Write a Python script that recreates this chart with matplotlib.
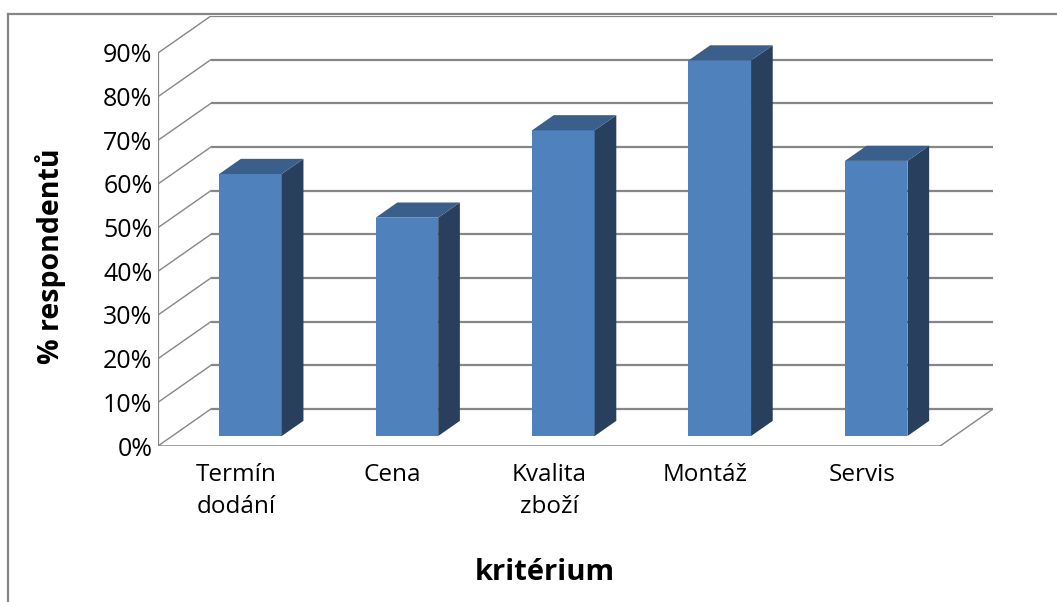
import numpy as np
import matplotlib
matplotlib.use("Agg")
import matplotlib.pyplot as plt
from matplotlib.patches import Polygon
from matplotlib.lines import Line2D

# data
categories = ["Termín\ndodání", "Cena", "Kvalita\nzboží", "Montáž", "Servis"]
values = [60, 50, 70, 86, 63]
yticks = [0, 10, 20, 30, 40, 50, 60, 70, 80, 90]
ytick_labels = ["0%", "10%", "20%", "30%", "40%", "50%", "60%", "70%", "80%", "90%"]

plt.rcParams['font.family'] = ['Open Sans', 'DejaVu Sans']

W, H = 1057, 602
fig = plt.figure(figsize=(W / 100, H / 100), dpi=100)

# oblique depth of the 3d box (in data units)
DX = 0.338   # along categories
DY = 8.47    # along percent
d0, d1 = 0.27, 0.68   # bar depth start/end (fraction of box depth)
bar_w = 0.40
ymax = yticks[-1]
n = len(categories)

# axes placed so that front plane maps to pixel box
left_px, right_px, bot_px, top_px = 158, 993, 446, 16
ax = fig.add_axes([left_px / W, 1 - bot_px / H, (right_px - left_px) / W, (bot_px - top_px) / H])
ax.set_xlim(-0.5, n - 0.5 + DX)
ax.set_ylim(0, ymax + DY)
for s in ax.spines.values():
    s.set_visible(False)

grid_c = "#868686"
# back wall gridlines + left wall diagonals
for y in yticks:
    ax.plot([-0.5 + DX, n - 0.5 + DX], [y + DY, y + DY], color=grid_c, lw=1.6, zorder=1,
            solid_capstyle='butt')
    ax.plot([-0.5, -0.5 + DX], [y, y + DY], color=grid_c, lw=1.0, zorder=1)
# front left axis
ax.plot([-0.5, -0.5], [0, ymax], color=grid_c, lw=1.6, zorder=1)
# floor
ax.plot([-0.5, n - 0.5], [0, 0], color=grid_c, lw=1.8, zorder=1)
ax.plot([n - 0.5, n - 0.5 + DX], [0, DY], color=grid_c, lw=1.0, zorder=1)

front_c = "#4F81BD"
side_c = "#283F5E"
top_c = "#3A5F8B"
ox, oy = d0 * DX, d0 * DY
ddx, ddy = (d1 - d0) * DX, (d1 - d0) * DY
for i, v in enumerate(values):
    xl = i - bar_w / 2 + ox
    xr = i + bar_w / 2 + ox
    ax.bar(i + ox, v, width=bar_w, bottom=oy, color=front_c, zorder=3, linewidth=0)
    side = [(xr, oy), (xr + ddx, oy + ddy), (xr + ddx, oy + v + ddy), (xr, oy + v)]
    ax.add_patch(Polygon(side, closed=True, facecolor=side_c, edgecolor='none', zorder=3))
    top = [(xl, oy + v), (xl + ddx, oy + v + ddy), (xr + ddx, oy + v + ddy), (xr, oy + v)]
    ax.add_patch(Polygon(top, closed=True, facecolor=top_c, edgecolor='none', zorder=3))

ax.set_yticks(yticks)
ax.set_yticklabels(ytick_labels, fontsize=18)
ax.set_xticks(range(n))
ax.set_xticklabels(categories, fontsize=17.5, linespacing=1.45)
ax.tick_params(axis='both', length=0, colors='#000000')
ax.tick_params(axis='y', pad=4)
ax.tick_params(axis='x', pad=12)

fig.text(50 / W, 1 - 256 / H, "% respondentů", rotation=90, fontsize=20.5, fontweight='bold',
         ha='center', va='center')
fig.text(545 / W, 1 - 572 / H, "kritérium", fontsize=21, fontweight='bold',
         ha='center', va='center')

# outer chart frame
fig.add_artist(Line2D([8 / W, 1], [1 - 14 / H, 1 - 14 / H], color=grid_c, lw=1.6))
fig.add_artist(Line2D([8 / W, 8 / W], [0, 1 - 14 / H], color=grid_c, lw=1.6))

fig.savefig("out.png", dpi=100)
